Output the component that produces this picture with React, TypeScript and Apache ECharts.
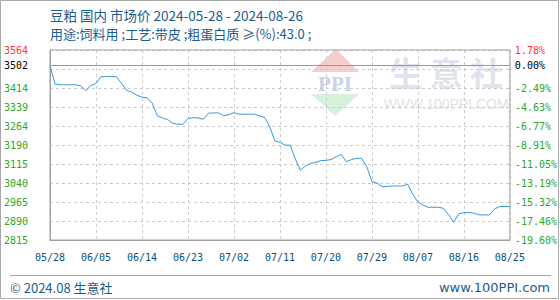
import React, { useEffect, useRef } from "react";
import * as echarts from "echarts";

// Daily market price (yuan/ton), 2024-05-28 .. 2024-08-26
const prices = [
  3502, 3430, 3427, 3427, 3427, 3427, 3423, 3404, 3424, 3432,
  3459, 3459, 3459, 3459, 3432, 3405, 3398, 3386, 3378, 3376,
  3355, 3305, 3296, 3290, 3275, 3271, 3271, 3294, 3297, 3296,
  3291, 3315, 3316, 3316, 3305, 3309, 3317, 3311, 3311, 3311,
  3311, 3304, 3298, 3262, 3206, 3200, 3189, 3189, 3135, 3090,
  3107, 3117, 3121, 3128, 3129, 3132, 3143, 3152, 3124, 3132,
  3137, 3137, 3104, 3045, 3040, 3025, 3026, 3028, 3028, 3028,
  3035, 2995, 2965, 2953, 2944, 2944, 2944, 2940, 2915, 2885,
  2918, 2923, 2923, 2921, 2914, 2914, 2914, 2937, 2947, 2947,
  2947,
];

const xTickLabels = [
  "05/28", "06/05", "06/14", "06/23", "07/02", "07/11",
  "07/20", "07/29", "08/07", "08/16", "08/25",
];

const leftTickLabels = [
  "2815", "2890", "2965", "3040", "3115", "3190",
  "3264", "3339", "3414", "", "3564",
];

const rightTickLabels = [
  "-19.60%", "-17.46%", "-15.32%", "-13.19%", "-11.05%", "-8.91%",
  "-6.77%", "-4.63%", "-2.49%", "", "1.78%",
];

const basePrice = 3502;
const baseLabel = "3502";
const basePctLabel = "0.00%";
const yMin = 2815;
const yMax = 3564;
const yInterval = 74.9;
const xDayStep = 9;

const titleLine1 = "豆粕 国内 市场价 2024-05-28 - 2024-08-26";
const titleLine2 = "用途:饲料用 ;工艺:带皮 ;粗蛋白质 ≥(%):43.0 ;";
const footerLeft = "© 2024.08 生意社";
const footerRight = "www.100PPI.com";

const MONO = "'DejaVu Sans Mono', monospace";
const CJK = "'Noto Sans CJK SC', 'Noto Sans', sans-serif";
const GREEN = "#2aa82a";
const RED = "#ff3333";
const BLUE_TEXT = "#1a5c8f";

export default function App() {
  const ref = useRef<HTMLDivElement>(null);

  useEffect(() => {
    if (!ref.current) return;
    const chart = echarts.init(ref.current, undefined, { renderer: "svg" });
    const tickIndex = (v: number) => Math.round((v - yMin) / yInterval);

    const option: any = {
      animation: false,
      backgroundColor: "#ffffff",
      grid: {
        left: 50,
        right: 50,
        top: 50,
        bottom: 60,
        show: true,
        borderColor: "#a0a0a0",
        borderWidth: 1,
        backgroundColor: "transparent",
        z: 1,
      },
      xAxis: {
        type: "value",
        min: 0,
        max: prices.length - 1,
        interval: xDayStep,
        axisLine: { show: true, lineStyle: { color: "#a0a0a0" } },
        axisTick: { show: false },
        splitLine: { show: true, lineStyle: { color: "#cccccc", type: [3, 3] } },
        axisLabel: {
          margin: 12,
          color: "#0b4f80",
          fontFamily: MONO,
          fontSize: 10,
          showMinLabel: true,
          showMaxLabel: true,
          formatter: (v: number) => xTickLabels[Math.round(v / xDayStep)] ?? "",
        },
      },
      yAxis: [
        {
          type: "value",
          min: yMin,
          max: yMax,
          interval: yInterval,
          axisLine: { show: true, lineStyle: { color: "#a0a0a0" } },
          axisTick: { show: false },
          splitLine: { show: true, lineStyle: { color: "#cccccc", type: [3, 3] } },
          axisLabel: {
            margin: 22,
            fontFamily: MONO,
            fontSize: 10,
            showMinLabel: true,
            showMaxLabel: true,
            formatter: (v: number) => {
              const k = tickIndex(v);
              const t = leftTickLabels[k] ?? "";
              if (!t) return "";
              return k === leftTickLabels.length - 1 ? `{r|${t}}` : `{g|${t}}`;
            },
            rich: {
              g: { color: GREEN, fontFamily: MONO, fontSize: 10 },
              r: { color: RED, fontFamily: MONO, fontSize: 10 },
            },
          },
        },
        {
          type: "value",
          min: yMin,
          max: yMax,
          interval: yInterval,
          position: "right",
          axisLine: { show: false },
          axisTick: { show: false },
          splitLine: { show: false },
          axisLabel: {
            margin: 5,
            fontFamily: MONO,
            fontSize: 10,
            showMinLabel: true,
            showMaxLabel: true,
            formatter: (v: number) => {
              const k = tickIndex(v);
              const t = rightTickLabels[k] ?? "";
              if (!t) return "";
              return k === rightTickLabels.length - 1 ? `{r|${t}}` : `{g|${t}}`;
            },
            rich: {
              g: { color: GREEN, fontFamily: MONO, fontSize: 10 },
              r: { color: RED, fontFamily: MONO, fontSize: 10 },
            },
          },
        },
      ],
      graphic: [
        // outer frame
        {
          type: "rect",
          silent: true,
          z: 0,
          shape: { x: 0.5, y: 0.5, width: 558, height: 298 },
          style: { fill: "none", stroke: "#a8a8a8", lineWidth: 1 },
        },
        // footer separator
        {
          type: "line",
          silent: true,
          shape: { x1: 10, y1: 275.5, x2: 551, y2: 275.5 },
          style: { stroke: "#a8a8a8", lineWidth: 1 },
        },
        // watermark logo
        {
          type: "polygon",
          silent: true,
          z: 0,
          shape: { points: [[336, 49], [311, 72], [359, 72]] },
          style: { fill: "rgba(240,190,190,0.75)" },
        },
        {
          type: "text",
          silent: true,
          z: 0,
          style: {
            x: 335,
            y: 84,
            text: "PPI",
            fill: "rgba(185,198,230,0.8)",
            fontSize: 21,
            fontWeight: "bold",
            fontFamily: "'Liberation Serif', serif",
            align: "center",
            verticalAlign: "middle",
          },
        },
        {
          type: "polygon",
          silent: true,
          z: 0,
          shape: { points: [[311, 94], [359, 94], [335, 116]] },
          style: { fill: "rgba(200,235,205,0.75)" },
        },
        {
          type: "text",
          silent: true,
          z: 0,
          style: {
            x: 446,
            y: 72,
            text: "生 意 社",
            fill: "rgba(218,222,234,0.85)",
            fontSize: 33,
            fontWeight: "bold",
            fontFamily: CJK,
            align: "center",
            verticalAlign: "middle",
          },
        },
        {
          type: "text",
          silent: true,
          z: 0,
          style: {
            x: 446,
            y: 104,
            text: "WWW.100PPI.COM",
            fill: "rgba(220,222,230,0.9)",
            fontSize: 14,
            fontFamily: "'Liberation Sans', sans-serif",
            align: "center",
            verticalAlign: "middle",
          },
        },
        // titles
        {
          type: "text",
          silent: true,
          style: {
            x: 50,
            y: 15,
            text: titleLine1,
            fill: BLUE_TEXT,
            fontSize: 13.5,
            fontFamily: CJK,
            verticalAlign: "middle",
          },
        },
        {
          type: "text",
          silent: true,
          style: {
            x: 50,
            y: 33,
            text: titleLine2,
            fill: BLUE_TEXT,
            fontSize: 13,
            fontFamily: CJK,
            verticalAlign: "middle",
          },
        },
        // footer
        {
          type: "text",
          silent: true,
          style: {
            x: 10,
            y: 287,
            text: footerLeft,
            fill: BLUE_TEXT,
            fontSize: 13,
            fontFamily: CJK,
            verticalAlign: "middle",
          },
        },
        {
          type: "text",
          silent: true,
          style: {
            x: 550,
            y: 287,
            text: footerRight,
            fill: BLUE_TEXT,
            fontSize: 13,
            fontFamily: "'DejaVu Sans', sans-serif",
            align: "right",
            verticalAlign: "middle",
          },
        },
      ],
      series: [
        {
          type: "line",
          yAxisIndex: 0,
          data: prices.map((p, i) => [i, p]),
          showSymbol: false,
          symbol: "none",
          z: 3,
          lineStyle: { color: "#3498db", width: 1 },
          markLine: {
            silent: true,
            symbol: ["none", "none"],
            animation: false,
            lineStyle: { color: "#9a9a9a", type: "solid", width: 1.2 },
            data: [
              {
                yAxis: basePrice,
                label: {
                  show: true,
                  position: "start",
                  distance: 22,
                  formatter: baseLabel,
                  color: "#000000",
                  fontFamily: MONO,
                  fontSize: 10,
                },
              },
              {
                yAxis: basePrice,
                label: {
                  show: true,
                  position: "end",
                  distance: 5,
                  formatter: basePctLabel,
                  color: "#000000",
                  fontFamily: MONO,
                  fontSize: 10,
                },
              },
            ],
          },
        },
      ],
    };

    chart.setOption(option);
    return () => chart.dispose();
  }, []);

  return (
    <div
      ref={ref}
      style={{ position: "fixed", left: 0, top: 0, width: 560, height: 300 }}
    />
  );
}
